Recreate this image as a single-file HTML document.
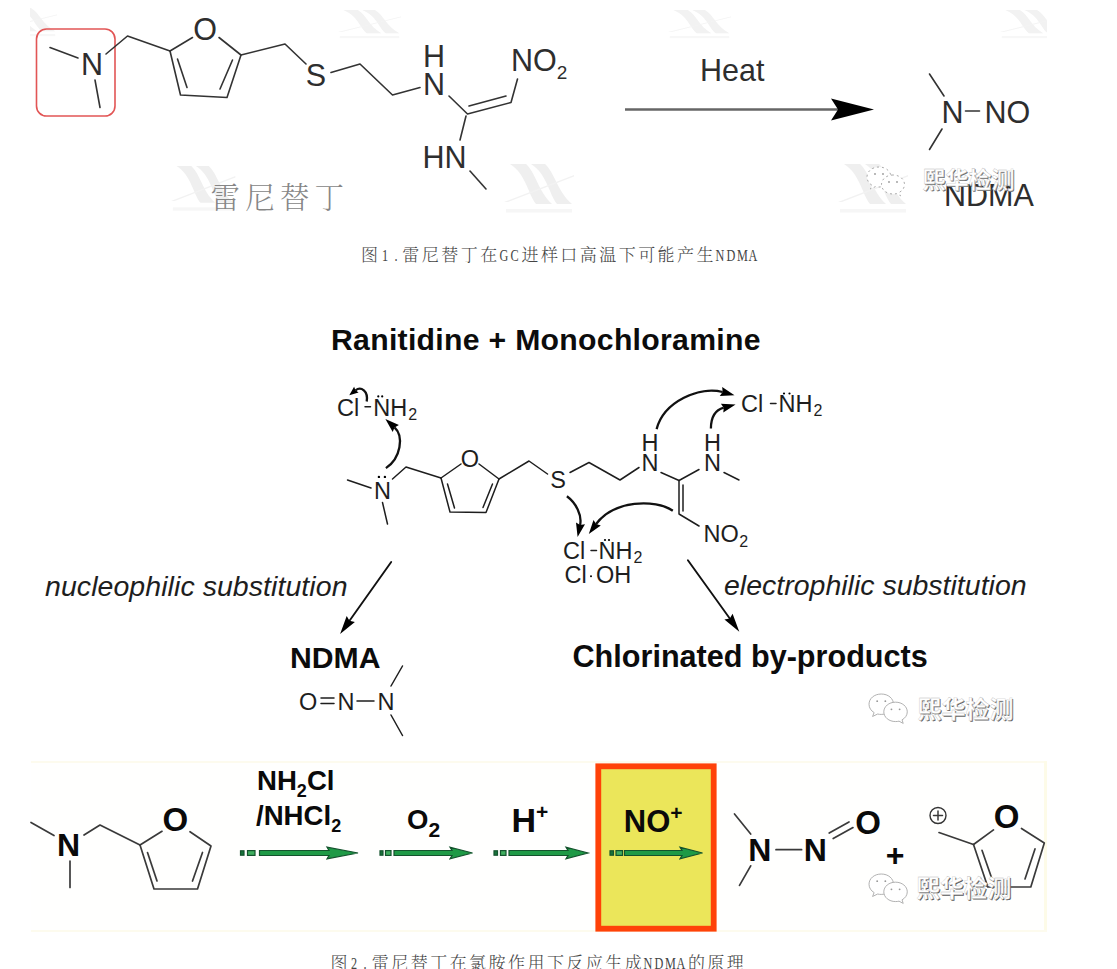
<!DOCTYPE html>
<html lang="zh">
<head>
<meta charset="utf-8">
<title>雷尼替丁 NDMA</title>
<style>
html,body{margin:0;padding:0;background:#fff;}
html{width:1117px;height:969px;overflow:hidden;}
body{width:1117px;height:969px;overflow:hidden;position:relative;font-family:"Liberation Sans","Noto Sans CJK SC",sans-serif;}
#root{position:absolute;left:0;top:0;width:1117px;height:969px;overflow:hidden;contain:paint;}
svg{position:absolute;left:0;top:0;display:block;}
.cap{position:absolute;white-space:nowrap;font-family:"Liberation Mono","Noto Serif CJK SC",serif;font-weight:300;font-size:17px;letter-spacing:2.45px;color:#444;line-height:20px;}
.cap i{font-style:normal;display:inline-block;width:8.5px;margin-right:2.45px;letter-spacing:0;text-align:center;font-family:"Liberation Serif",serif;font-size:16.5px;}
.cap i u{text-decoration:none;display:inline-block;transform:scaleX(.74);transform-origin:50% 50%;margin:0 -3px;}
.a{font-family:"Liberation Sans",sans-serif;}
.f1 line,.f1 polyline{stroke:#333;stroke-width:1.6;fill:none;stroke-linecap:round;stroke-linejoin:round;}
.f1 text{font-family:"Liberation Sans",sans-serif;font-size:30.5px;fill:#2e2e2e;}
.f2 line,.f2 polyline,.f2 path.b{stroke:#1e1e1e;stroke-width:1.5;fill:none;stroke-linecap:round;stroke-linejoin:round;}
.f2 text{font-family:"Liberation Sans",sans-serif;font-size:23.5px;fill:#1e1e1e;}
.f2 path.c{stroke:#111;stroke-width:2.3;fill:none;}
.f3 line,.f3 polyline{stroke:#3a3a3a;stroke-width:1.7;fill:none;stroke-linecap:round;stroke-linejoin:round;}
.f3 text{font-family:"Liberation Sans",sans-serif;font-size:27.6px;font-weight:bold;fill:#0a0a0a;}
.wm text{font-family:"Noto Sans CJK SC",sans-serif;font-size:24px;font-weight:500;}
</style>
</head>
<body>
<div id="root">
<svg width="1117" height="969" viewBox="0 0 1117 969">
<defs>
<clipPath id="c1"><rect x="30" y="0" width="1017" height="214"/></clipPath>
<g id="logo" fill="#efefef">
<path d="M6,0 L22,0 C32,9 34,27 48,40 L32,40 C24,30 22,10 6,0 Z"/>
<path d="M27,0 L41,0 C51,9 53,27 68,40 L53,40 C45,30 43,10 27,0 Z"/>
<path d="M0,38 L70,11 L70,12.5 L4,38 Z" fill="#f2f2f2"/>
<rect x="2" y="45" width="66" height="3.5" fill="#f6f6f6"/>
</g>
<g id="wx">
<path d="M13,1 C6,1 1,5.5 1,11 C1,14.5 3,17.5 6,19.2 L4.5,23 L9.5,20.6 C10.6,20.9 11.8,21 13,21 C20,21 25,16.5 25,11 C25,5.5 20,1 13,1 Z"/>
<path d="M27,9 C20.5,9 15.5,13.2 15.5,18.5 C15.5,23.8 20.5,28 27,28 C28.2,28 29.3,27.9 30.4,27.6 L34.5,29.8 L33.4,26.3 C36.5,24.6 38.5,21.8 38.5,18.5 C38.5,13.2 33.5,9 27,9 Z"/>
<circle cx="9" cy="8" r=".9" fill="#999" stroke="none"/><circle cx="17" cy="8" r=".9" fill="#999" stroke="none"/>
<circle cx="23" cy="16" r=".9" fill="#999" stroke="none"/><circle cx="31" cy="16" r=".9" fill="#999" stroke="none"/>
</g>
</defs>
<g class="f1">
<g clip-path="url(#c1)">
<use href="#logo" transform="translate(-6,8) scale(.9,.58)" opacity=".8"/>
<use href="#logo" transform="translate(338,10) scale(.9,.58)" opacity=".8"/>
<use href="#logo" transform="translate(668,10) scale(.9,.58)" opacity=".8"/>
<use href="#logo" transform="translate(1000,10) scale(.9,.58)" opacity=".8"/>
<use href="#logo" transform="translate(171,166) scale(.92)"/>
<use href="#logo" transform="translate(504,164)"/>
<use href="#logo" transform="translate(838,164)"/>
</g>
<rect x="36.5" y="29" width="78.5" height="87" rx="10" ry="10" fill="none" stroke="#e25555" stroke-width="1.6"/>
<line x1="50" y1="47.5" x2="78" y2="58"/>
<line x1="95" y1="80" x2="100" y2="107.5"/>
<polyline points="106,54 127.5,36 170,51"/>
<line x1="170" y1="51" x2="192.5" y2="37.5"/>
<polyline points="219,37.5 241,55 227,97.5 180.5,95 170,51"/>
<line x1="177.5" y1="59" x2="187" y2="87.5"/>
<line x1="232.5" y1="60" x2="220" y2="89"/>
<polyline points="241,55 285,44 306,64"/>
<polyline points="331,72.5 360,64 392.5,95 420,87.5"/>
<polyline points="449,96 467.5,114 511,102.5 517.5,79"/>
<line x1="469" y1="106" x2="506" y2="96"/>
<line x1="466" y1="116" x2="460" y2="140"/>
<line x1="470" y1="171" x2="486" y2="189"/>
<text x="92" y="74.5" text-anchor="middle">N</text>
<text x="205" y="39.5" text-anchor="middle">O</text>
<text x="316" y="85.5" text-anchor="middle">S</text>
<text x="434" y="94.5" text-anchor="middle">N</text>
<text x="434" y="66.5" text-anchor="middle">H</text>
<text x="511" y="71">NO<tspan font-size="19" dy="8">2</tspan></text>
<text x="422.5" y="168.3">HN</text>
<text x="700" y="81">Heat</text>
<line x1="625" y1="109.5" x2="840" y2="109.5" style="stroke:#666;stroke-width:2.4;stroke-linecap:butt"/>
<polygon points="874,109.5 831,98.5 838,109.5 831,120.5" fill="#000"/>
<line x1="929.5" y1="74" x2="944" y2="96"/>
<line x1="942" y1="129" x2="929.5" y2="149.5"/>
<text x="941.5" y="122.5">N</text>
<line x1="965.5" y1="111" x2="979.5" y2="111"/>
<text x="984.5" y="122.5">NO</text>
<text x="210.5" y="208.2" style="font-family:'Noto Serif CJK SC',serif;font-weight:300;font-size:29.5px;letter-spacing:5.2px;fill:#868686">雷尼替丁</text>
<text x="944" y="205.5">NDMA</text>
<g class="wm">
<use href="#wx" transform="translate(866,166) scale(1.0)" fill="#fff" stroke="#aaa" stroke-width="1" stroke-dasharray="2 3"/>
<text x="923.4" y="189.2" style="fill:#707070;font-size:23px;font-weight:700">熙华检测</text>
<text x="922.5" y="188.3" style="fill:#fff;font-size:23px;font-weight:700;stroke:#bbb;stroke-width:.35">熙华检测</text>
</g>
</g>
<g class="f2">
<text x="331" y="350.4" textLength="429.5" style="font-weight:bold;font-size:30.2px;fill:#0c0c0c" id="t2">Ranitidine + Monochloramine</text>
<line x1="347.5" y1="480" x2="371" y2="488"/>
<line x1="382.5" y1="502.5" x2="387.5" y2="524"/>
<polyline points="392.5,479 406,467 441,478"/>
<line x1="441" y1="478" x2="461" y2="464"/>
<polyline points="479,464 499,479 486,512.5 450,512 441,478"/>
<line x1="447.5" y1="484" x2="454.5" y2="508"/>
<line x1="492.5" y1="484" x2="483" y2="507.5"/>
<polyline points="499,479 529,461 547.5,474"/>
<polyline points="570,472.5 589,462.5 620,480 639,467.5"/>
<polyline points="661,472.5 679,480.5 699,469.5"/>
<line x1="724" y1="472.5" x2="739" y2="480"/>
<polyline points="679,480.5 679,514 699,526"/>
<line x1="683" y1="485" x2="683" y2="511"/>
<text x="337" y="415.5">Cl</text><line x1="365" y1="406.7" x2="370.5" y2="406.7"/><text x="373.3" y="415.5">NH<tspan font-size="16" dy="4.8" dx="1">2</tspan></text>
<circle cx="378.3" cy="396.4" r="1.1"/><circle cx="382.2" cy="396.4" r="1.1"/>
<text x="382.5" y="499.3" text-anchor="middle">N</text>
<circle cx="378.9" cy="476.9" r="1.2"/><circle cx="384.9" cy="476.9" r="1.2"/>
<text x="470" y="467" text-anchor="middle">O</text>
<text x="558" y="487.5" text-anchor="middle">S</text>
<text x="650" y="470.5" text-anchor="middle">N</text>
<text x="650" y="451" text-anchor="middle">H</text>
<text x="712.5" y="470.5" text-anchor="middle">N</text>
<text x="712.5" y="451" text-anchor="middle">H</text>
<text x="703.5" y="541.5">NO<tspan font-size="16" dy="5.5" dx="0.5">2</tspan></text>
<text x="741" y="411.5">Cl</text><line x1="770.5" y1="403.5" x2="776" y2="403.5"/><text x="778.5" y="411.5">NH<tspan font-size="16" dy="4.8" dx="1">2</tspan></text>
<circle cx="784" cy="393.5" r="1.1"/><circle cx="789.5" cy="393.5" r="1.1"/>
<text x="563" y="558.5">Cl</text><line x1="591" y1="550.5" x2="596.5" y2="550.5"/><text x="598.5" y="558.5">NH<tspan font-size="16" dy="4.8" dx="1">2</tspan></text>
<circle cx="605" cy="540" r="1.1"/><circle cx="609" cy="540" r="1.1"/>
<text x="564.5" y="583.3">Cl</text><circle cx="591" cy="576.3" r="1"/><text x="596" y="583.3">OH</text>
<path class="c" d="M366.7,401.5 C368.5,391.0 361.0,386.0 355.5,390.3"/><polygon points="349.3,395.2 354.1,386.8 355.5,390.3 358.6,392.5"/>
<path class="c" d="M385.9,468.1 C401.0,458.0 404.0,436.0 394.5,427.4"/><polygon points="385.4,419.1 398.9,425.1 394.5,427.4 392.7,431.9"/>
<path class="c" d="M656.6,429.1 C664.0,401.0 700.0,386.0 722.6,392.0"/><polygon points="734.5,395.2 719.8,396.0 722.6,392.0 722.2,387.1"/>
<path class="c" d="M710.9,428.5 C711.0,415.0 717.6,409.4 723.7,407.7"/><polygon points="735.6,404.4 723.3,412.6 723.7,407.7 720.9,403.7"/>
<path class="c" d="M566.9,496.3 C576.0,503.0 582.2,515.0 580.1,524.9"/><polygon points="577.6,537.0 576.0,522.4 580.1,524.9 585.0,524.2"/>
<path class="c" d="M672.8,510.7 C655.0,499.0 614.0,500.0 596.1,524.0"/><polygon points="588.8,533.9 593.5,519.9 596.1,524.0 600.8,525.4"/>
<line x1="391.2" y1="562.0" x2="349.5" y2="620.8" style="stroke-width:1.9;stroke:#111"/><polygon points="340.1,634.1 346.7,616.1 349.5,620.8 354.9,621.9"/>
<line x1="687.9" y1="560.2" x2="729.8" y2="618.5" style="stroke-width:1.9;stroke:#111"/><polygon points="739.3,631.7 724.4,619.6 729.8,618.5 732.6,613.8"/>
<text x="45" y="596.3" textLength="302.5" style="font-style:italic;font-size:28.5px" id="t3">nucleophilic substitution</text>
<text x="724" y="594.7" style="font-style:italic;font-size:28.5px" id="t4">electrophilic substitution</text>
<text x="290" y="668.3" textLength="90.5" lengthAdjust="spacingAndGlyphs" style="font-weight:bold;font-size:29.6px;fill:#0c0c0c" id="t5">NDMA</text>
<text x="572.5" y="667.2" style="font-weight:bold;font-size:30.6px;fill:#0c0c0c" id="t6">Chlorinated by-products</text>
<text x="299" y="709.5" style="font-size:23.5px">O</text>
<line x1="321" y1="698" x2="334" y2="698"/><line x1="321" y1="703.5" x2="334" y2="703.5"/>
<text x="337.5" y="709.5" style="font-size:23.5px">N</text>
<line x1="357" y1="701" x2="374" y2="701"/>
<text x="377.5" y="709.5" style="font-size:23.5px">N</text>
<line x1="391" y1="686" x2="402.5" y2="666"/>
<line x1="391" y1="715" x2="402.5" y2="735.5"/>
<g class="wm">
<use href="#wx" transform="translate(868,693) scale(1.02)" fill="#fff" stroke="#aaa" stroke-width=".9"/>
<text style="fill:#666;font-weight:700" x="918.5" y="718.5">熙华检测</text>
<text style="fill:#fff;font-weight:700;stroke:#bbb;stroke-width:.35" x="917.5" y="717.5">熙华检测</text>
</g>
</g>
<g class="f3">
<rect x="31" y="761" width="1016" height="171" fill="#fffffe"/>
<rect x="31" y="761" width="1016" height="2" fill="#fdfbee"/>
<rect x="1044" y="761" width="3" height="171" fill="#fdfbe8"/>
<rect x="31" y="930" width="1016" height="2" fill="#fdfbee"/>
<rect x="598.3" y="766.3" width="115.4" height="162.4" fill="#ebe65a" stroke="#ff4208" stroke-width="5.8"/>
<line x1="31" y1="822.5" x2="54" y2="835.5"/>
<line x1="70" y1="861" x2="70" y2="887.5"/>
<polyline points="84,835 100,825 140,845"/>
<line x1="140" y1="845" x2="162" y2="831.3"/>
<polyline points="190,831.7 211,846 197.5,889 154,889 140,845"/>
<line x1="147.5" y1="852.5" x2="157" y2="881"/>
<line x1="202.5" y1="852.5" x2="192.5" y2="881"/>
<text x="68.6" y="856" text-anchor="middle" style="font-size:32px">N</text>
<text x="175.4" y="831.4" text-anchor="middle" style="font-size:33px">O</text>
<text x="257" y="790">NH<tspan font-size="18" dy="7">2</tspan><tspan dy="-7">Cl</tspan></text>
<text x="256" y="825">/NHCl<tspan font-size="18" dy="7">2</tspan></text>
<text x="407" y="829" style="font-size:27.5px">O<tspan font-size="21" dy="7.5">2</tspan></text>
<text x="511.5" y="831.5" style="font-size:34px">H<tspan font-size="21" dy="-13">+</tspan></text>
<text x="623.8" y="831.5" style="font-size:31px">NO<tspan font-size="21" dy="-11.5">+</tspan></text>
<g stroke="#14532d" stroke-width="1.2" fill="#1f9a46" stroke-linejoin="miter">
<rect x="240.5" y="850.8" width="3.5" height="4.4" fill="#17743a"/><rect x="247.5" y="850.6" width="7.5" height="4.8" fill="#3fae5e"/>
<path d="M259.5,850.5 L329,850.5 L327,847.2 L358,853 L327,858.8 L329,855.5 L259.5,855.5 Z"/></g><g stroke="#14532d" stroke-width="1.2" fill="#1f9a46" stroke-linejoin="miter">
<rect x="380" y="850.8" width="3" height="4.4" fill="#17743a"/><rect x="385.5" y="850.6" width="5.5" height="4.8" fill="#3fae5e"/>
<path d="M394,850.5 L452,850.5 L450,847.2 L472.5,853 L450,858.8 L452,855.5 L394,855.5 Z"/></g><g stroke="#14532d" stroke-width="1.2" fill="#1f9a46" stroke-linejoin="miter">
<rect x="494" y="850.8" width="3.5" height="4.4" fill="#17743a"/><rect x="500.5" y="850.6" width="5.5" height="4.8" fill="#3fae5e"/>
<path d="M509,850.5 L568,850.5 L566,847.2 L588,853 L566,858.8 L568,855.5 L509,855.5 Z"/></g><g stroke="#14532d" stroke-width="1.2" fill="#1f9a46" stroke-linejoin="miter">
<rect x="610" y="850.8" width="3.5" height="4.4" fill="#17743a"/><rect x="616" y="850.6" width="6.5" height="4.8" fill="#3fae5e"/>
<path d="M624.5,850.5 L682,850.5 L680,847.2 L702.5,853 L680,858.8 L682,855.5 L624.5,855.5 Z"/></g>
<line x1="734.5" y1="814" x2="750.7" y2="834"/>
<line x1="739.5" y1="885.4" x2="750.7" y2="865.8"/>
<text x="759.8" y="860.7" text-anchor="middle" style="font-size:32px">N</text>
<line x1="776" y1="849.7" x2="801.6" y2="849.7"/>
<text x="815.3" y="860.7" text-anchor="middle" style="font-size:32px">N</text>
<line x1="829.2" y1="833" x2="849" y2="822"/>
<line x1="833.2" y1="838.6" x2="853" y2="827.6"/>
<text x="868.2" y="833.5" text-anchor="middle" style="font-size:33px">O</text>
<text x="895" y="866" text-anchor="middle" style="font-size:32px">+</text>
<circle cx="938" cy="815.5" r="8" fill="none" stroke="#333" stroke-width="1.4"/>
<line x1="933.5" y1="815.5" x2="942.5" y2="815.5" style="stroke-width:1.5"/><line x1="938" y1="811" x2="938" y2="820" style="stroke-width:1.5"/>
<line x1="939" y1="832.5" x2="973.5" y2="844.5"/>
<line x1="973.5" y1="844.5" x2="993.5" y2="829.9"/>
<polyline points="1021.5,828.5 1044.3,843 1030.8,887 987.8,887 973.5,844.5"/>
<line x1="982" y1="850.3" x2="992" y2="879"/>
<line x1="1035" y1="848.9" x2="1025" y2="879"/>
<text x="1006.7" y="828.4" text-anchor="middle" style="font-size:33px">O</text>
<g class="wm">
<use href="#wx" transform="translate(868,873) scale(1.02)" fill="#fff" stroke="#aaa" stroke-width=".9"/>
<text x="917.2" y="897.6" style="fill:#5a5a5a;font-weight:700;font-size:23.8px">熙华检测</text>
<text x="916.2" y="896.6" style="fill:#fff;font-weight:700;font-size:23.8px;stroke:#bbb;stroke-width:.35">熙华检测</text>
</g>
</g>
</svg>
<div class="cap" style="left:361px;top:246.3px;">图<i><u>1</u></i><i><u>.</u></i>雷尼替丁在<i><u>G</u></i><i><u>C</u></i>进样口高温下可能产生<i><u>N</u></i><i><u>D</u></i><i><u>M</u></i><i><u>A</u></i></div>
<div class="cap" style="left:330.5px;top:953.6px;">图<i><u>2</u></i><i><u>.</u></i>雷尼替丁在氯胺作用下反应生成<i><u>N</u></i><i><u>D</u></i><i><u>M</u></i><i><u>A</u></i>的原理</div>
</div>
</body>
</html>
